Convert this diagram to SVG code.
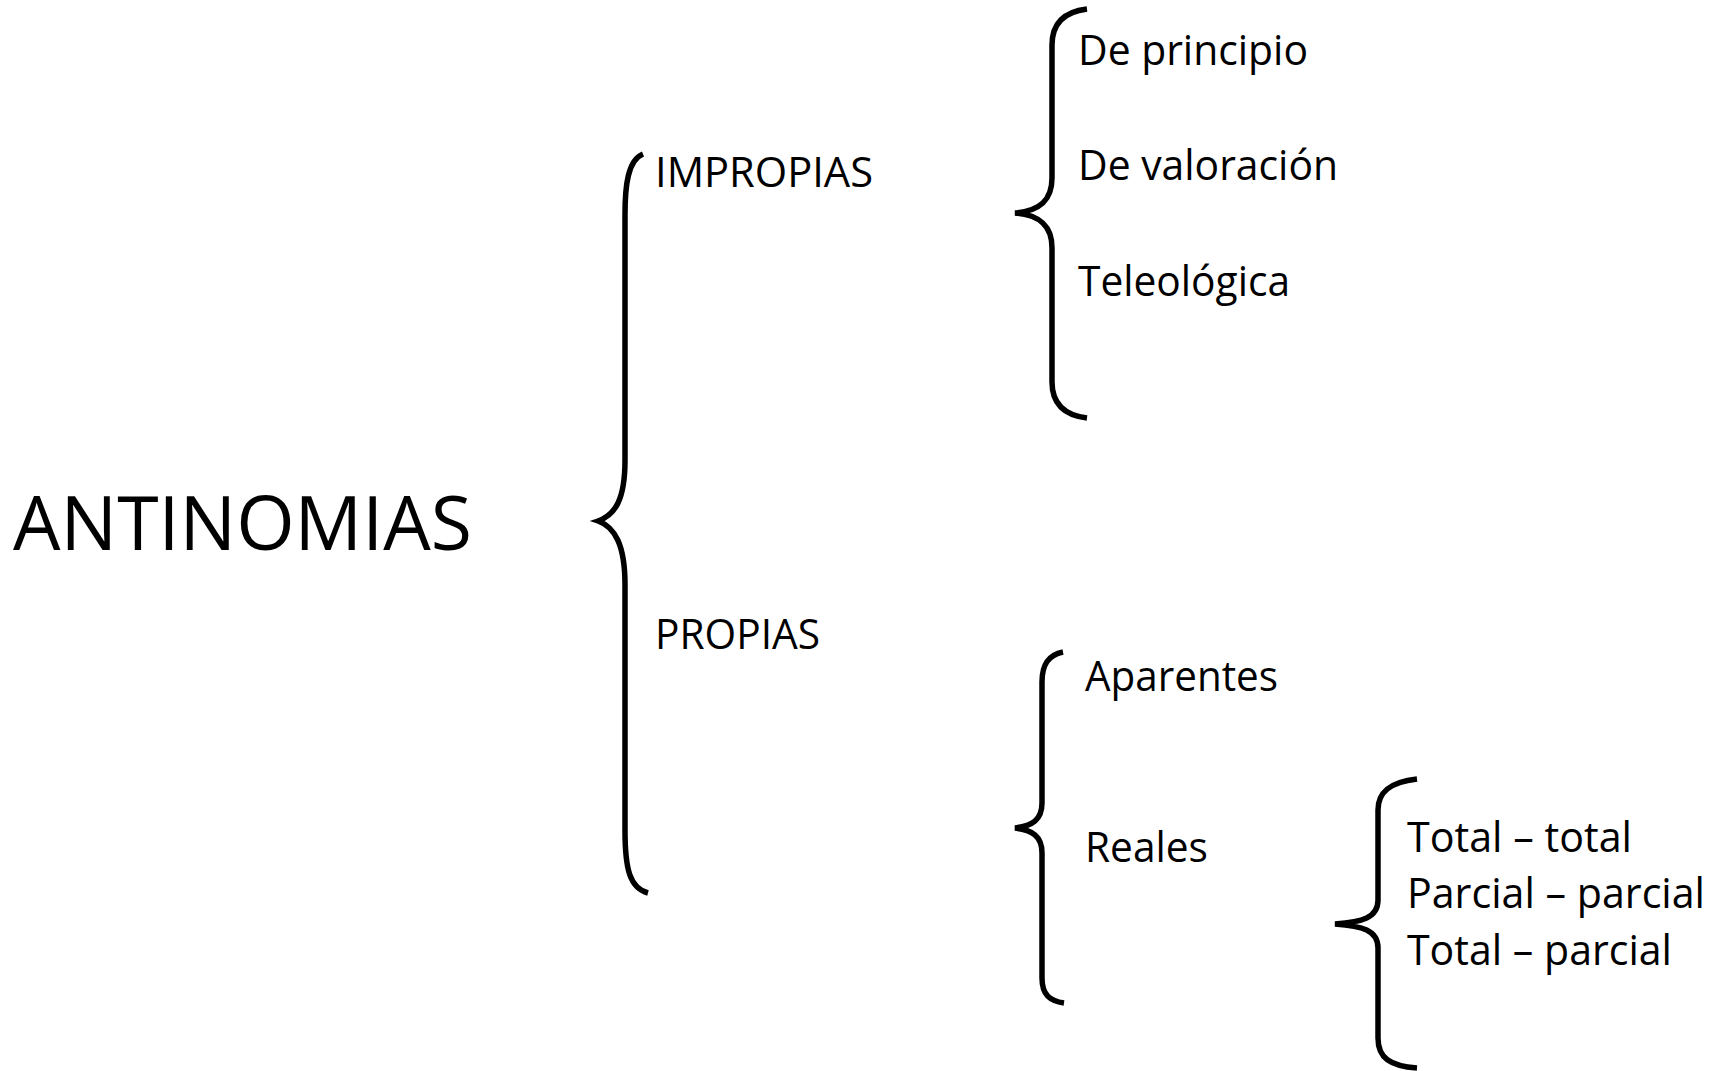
<svg xmlns="http://www.w3.org/2000/svg" width="1724" height="1071" viewBox="0 0 1724 1071">
<style>
  .t { font-family: "Open Sans", "Noto Sans", "Liberation Sans", sans-serif; fill: #000; }
  .s { font-size: 42px; }
  .b { fill: none; stroke: #000; stroke-width: 5.5; stroke-linecap: butt; }
</style>
<rect width="1724" height="1071" fill="#fff"/>
<g id="connectors">
  <path class="b" d="M643,154 C628,160 625,185 625,215 L625,460 C625,500 615,515 598,521 C615,527 625,545 625,585 L625,830 C625,870 630,888 648,893"/>
  <path class="b" d="M1087,9 C1062,12 1052,25 1052,45 L1052,178 C1052,200 1040,211 1015,213 C1040,215 1052,226 1052,248 L1052,382 C1052,402 1062,415 1087,418"/>
  <path class="b" d="M1063,652 C1048,655 1042,665 1042,682 L1042,803 C1042,820 1032,826 1015,828 C1032,830 1042,836 1042,853 L1042,978 C1042,995 1050,1001 1064,1003"/>
  <path class="b" d="M1417,779 C1390,782 1378,792 1378,810 L1378,900 C1378,918 1362,922 1335,924 C1362,926 1378,930 1378,948 L1378,1038 C1378,1058 1390,1066 1417,1068"/>
</g>
<g id="antinomias"><text class="t" x="13" y="550" font-size="75" textLength="459" lengthAdjust="spacingAndGlyphs">ANTINOMIAS</text></g>
<g id="impropias"><text class="t s" x="655" y="187" textLength="218" lengthAdjust="spacingAndGlyphs">IMPROPIAS</text></g>
<g id="propias"><text class="t s" x="655" y="649" textLength="165" lengthAdjust="spacingAndGlyphs">PROPIAS</text></g>
<g id="de-principio"><text class="t s" x="1078" y="65" textLength="230" lengthAdjust="spacingAndGlyphs">De principio</text></g>
<g id="de-valoracion"><text class="t s" x="1078" y="180" textLength="260" lengthAdjust="spacingAndGlyphs">De valoración</text></g>
<g id="teleologica"><text class="t s" x="1078" y="296" textLength="212" lengthAdjust="spacingAndGlyphs">Teleológica</text></g>
<g id="aparentes"><text class="t s" x="1085" y="691" textLength="193" lengthAdjust="spacingAndGlyphs">Aparentes</text></g>
<g id="reales"><text class="t s" x="1085" y="862" textLength="123" lengthAdjust="spacingAndGlyphs">Reales</text></g>
<g id="total-total"><text class="t s" x="1407" y="852" textLength="225" lengthAdjust="spacingAndGlyphs">Total – total</text></g>
<g id="parcial-parcial"><text class="t s" x="1407" y="908" textLength="298" lengthAdjust="spacingAndGlyphs">Parcial – parcial</text></g>
<g id="total-parcial"><text class="t s" x="1407" y="965" textLength="265" lengthAdjust="spacingAndGlyphs">Total – parcial</text></g>
</svg>
